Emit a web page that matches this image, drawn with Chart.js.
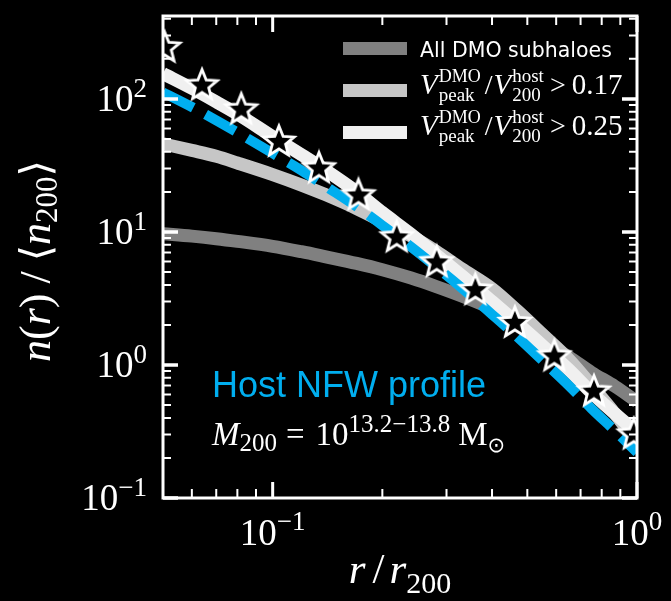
<!DOCTYPE html>
<html><head><meta charset="utf-8">
<style>html,body{margin:0;padding:0;background:#000;}#wrap{width:671px;height:601px;position:relative;}</style>
<script src="https://cdn.jsdelivr.net/npm/chart.js@4.4.1/dist/chart.umd.min.js"></script>
</head><body><div id="wrap"><canvas id="c"></canvas></div>
<script>
// ---------------- data ----------------
const radius    = [0.05,0.06,0.07,0.08,0.1,0.12,0.14,0.17,0.2,0.24,0.28,0.33,0.4,0.47,0.55,0.65,0.75,0.87,1.0];
const allDMO    = [9.7,9.3,8.9,8.5,7.8,7.1,6.5,5.8,5.2,4.5,3.9,3.3,2.65,2.1,1.5,1.15,0.88,0.69,0.53];
const vpeak017  = [46,41,37,33,27,22.5,19,15,12,9.3,7.2,5.3,3.75,2.55,1.7,1.1,0.7,0.43,0.26];
const vpeak025  = [155,120,95,77,52,38,29,20,14,9.6,6.8,4.7,3.0,2.05,1.4,0.92,0.62,0.43,0.31];
const hostNFW   = [112,87,69,56,39,29,22,15.5,11.2,7.7,5.5,3.8,2.4,1.62,1.08,0.70,0.47,0.32,0.22];
const starRadius= [0.0505,0.064,0.082,0.104,0.134,0.172,0.219,0.282,0.36,0.462,0.593,0.762,0.98];
const starValues= [242,126,83,47.5,30,18.8,9.1,5.9,3.65,2.07,1.16,0.63,0.30];

const seriesLabels = ['All DMO subhaloes','V_peak^DMO/V_200^host > 0.17','V_peak^DMO/V_200^host > 0.25','Host NFW profile','stacked subhaloes'];
const legendThresholds = ['0.17','0.25'];
const xTickValues = [0.1, 1];
const xTickExps   = ['\u22121','0'];
const yTickValues = [0.1, 1, 10, 100];
const yTickExps   = ['\u22121','0','1','2'];
const xRange = [0.05, 1];
const yRange = [0.1, 420];

// ---------------- styling ----------------
const SERIF = '"Liberation Serif","DejaVu Serif",serif';
const SANS  = '"Liberation Sans",Arial,sans-serif';
const LSANS = '"DejaVu Sans",sans-serif';
const colDark = '#808080', colMid = '#c6c6c6', colLight = '#f0f0f0', colBlue = '#00aeef';

function makeStar(R, r, lw){
  const size = Math.ceil(2*R + 2*lw + 2);
  const c = document.createElement('canvas'); c.width = size; c.height = size;
  const g = c.getContext('2d'); g.translate(size/2, size/2);
  g.beginPath();
  for (let i=0;i<10;i++){ const a=-Math.PI/2+i*Math.PI/5; const rr=(i%2)?r:R; g.lineTo(rr*Math.cos(a), rr*Math.sin(a)); }
  g.closePath(); g.fillStyle='#000'; g.fill();
  g.lineWidth=lw; g.strokeStyle='#fff'; g.lineJoin='miter'; g.stroke();
  return c;
}
const starImg = makeStar(16, 7, 2.8);

function pts(xs, ys){ return xs.map((x,i)=>({x, y: ys[i]})); }

function rich(ctx, segs, x, y, align){
  const lay=[]; let cur=0, pend=null;
  for (const s of segs){
    ctx.font = s.f;
    const w = ctx.measureText(s.t).width;
    const pre = s.pre||0;
    if (s.stack){ lay.push([s, cur+pre]); pend={start:cur+pre, w}; }
    else if (pend){ lay.push([s, pend.start]); cur = pend.start + Math.max(pend.w, w) + (s.post||0); pend=null; }
    else { lay.push([s, cur+pre]); cur += pre + w + (s.post||0); }
  }
  const x0 = align==='right' ? x-cur : align==='center' ? x-cur/2 : x;
  ctx.textAlign='left'; ctx.textBaseline='alphabetic';
  for (const [s,px] of lay){ ctx.font=s.f; ctx.fillText(s.t, x0+px, y+(s.dy||0)); }
  return cur;
}

const decor = {
  id:'decor',
  beforeDraw(chart){
    const ctx=chart.ctx; ctx.save(); ctx.fillStyle='#000'; ctx.fillRect(0,0,chart.width,chart.height); ctx.restore();
  },
  afterDatasetsDraw(chart){
    const ctx=chart.ctx, ca=chart.chartArea, xs=chart.scales.x, ys=chart.scales.y;
    ctx.save();
    ctx.strokeStyle='#fff';
    const tick=(px,isX,len,w)=>{
      ctx.lineWidth=w; ctx.beginPath();
      if(isX){ ctx.moveTo(px,ca.bottom); ctx.lineTo(px,ca.bottom-len); ctx.moveTo(px,ca.top); ctx.lineTo(px,ca.top+len); }
      else { ctx.moveTo(ca.left,px); ctx.lineTo(ca.left+len,px); ctx.moveTo(ca.right,px); ctx.lineTo(ca.right-len,px); }
      ctx.stroke();
    };
    for (let d=0.01; d<=1.0001; d*=10){
      for(let k=1;k<=9;k++){ const v=d*k; if(v<xRange[0]-1e-9||v>xRange[1]+1e-9) continue;
        const major = k===1; tick(xs.getPixelForValue(v), true, major?16:9, major?3:2); }
    }
    for (let d=0.1; d<=100.001; d*=10){
      for(let k=1;k<=9;k++){ const v=d*k; if(v<yRange[0]-1e-9||v>yRange[1]) continue;
        const major = k===1; tick(ys.getPixelForValue(v), false, major?15:8, major?3.5:2); }
    }
    ctx.lineWidth=3; ctx.strokeRect(ca.left, ca.top, ca.right-ca.left, ca.bottom-ca.top);
    ctx.restore();
  },
  afterDraw(chart){
    const ctx=chart.ctx, ca=chart.chartArea, xs=chart.scales.x, ys=chart.scales.y;
    const ds=chart.data.datasets;
    ctx.save();
    ctx.fillStyle='#fff';
    xTickValues.forEach((v,i)=>{
      rich(ctx,[{t:'10',f:`37px ${SERIF}`},{t:xTickExps[i],f:`27px ${SERIF}`,dy:-15}], xs.getPixelForValue(v), 545, 'center');
    });
    yTickValues.forEach((v,i)=>{
      const py=ys.getPixelForValue(v);
      rich(ctx,[{t:'10',f:`37px ${SERIF}`},{t:yTickExps[i],f:`27px ${SERIF}`,dy:-14}], 147, py+12, 'right');
    });
    rich(ctx,[{t:'r',f:`italic 43px ${SERIF}`},{t:'/',f:`43px ${SERIF}`,pre:7,post:5},{t:'r',f:`italic 43px ${SERIF}`},{t:'200',f:`30px ${SERIF}`,dy:10}], (ca.left+ca.right)/2, 583, 'center');
    ctx.save(); ctx.translate(50, 261); ctx.rotate(-Math.PI/2);
    rich(ctx,[{t:'n',f:`italic 44px ${SERIF}`},{t:'(',f:`44px ${SERIF}`},{t:'r',f:`italic 44px ${SERIF}`},{t:')',f:`44px ${SERIF}`},
      {t:'/',f:`44px ${SERIF}`,pre:10,post:10},{t:'\u27E8',f:`42px ${LSANS}`},{t:'n',f:`italic 44px ${SERIF}`},{t:'200',f:`31px ${SERIF}`,dy:7},{t:'\u27E9',f:`42px ${LSANS}`}], 0, 0, 'center');
    ctx.restore();
    // legend
    const lx0=ca.left+180, lx1=ca.left+244, tx=ca.left+257;
    const rows=[{c:ds[0].borderColor,yc:48.5,base:57},{c:ds[1].borderColor,yc:90.5,base:94},{c:ds[2].borderColor,yc:132.5,base:135}];
    rows.forEach(r=>{ ctx.fillStyle=r.c; ctx.fillRect(lx0, r.yc-6.5, lx1-lx0, 13); });
    ctx.fillStyle='#fff';
    ctx.font=`20.5px ${LSANS}`; ctx.textAlign='left'; ctx.fillText(ds[0].label, tx, 57);
    [1,2].forEach((k,j)=>{
      const b=rows[k].base;
      rich(ctx,[{t:'V',f:`italic 29px ${SERIF}`},{t:'DMO',f:`18px ${SERIF}`,dy:-12,stack:true,pre:1},{t:'peak',f:`19px ${SERIF}`,dy:7},
        {t:'/',f:`28px ${SERIF}`,pre:4,post:1},{t:'V',f:`italic 29px ${SERIF}`},{t:'host',f:`19px ${SERIF}`,dy:-12,stack:true,pre:1},{t:'200',f:`19px ${SERIF}`,dy:7},
        {t:'>',f:`28px ${SERIF}`,pre:6,post:6},{t:legendThresholds[j],f:`29px ${SERIF}`}], tx, b, 'left');
    });
    ctx.fillStyle=ds[3].borderColor; ctx.font=`36px ${SANS}`; ctx.textAlign='left';
    ctx.fillText(ds[3].label, ca.left+49, 397);
    ctx.fillStyle='#fff';
    rich(ctx,[{t:'M',f:`italic 33px ${SERIF}`},{t:'200',f:`25px ${SERIF}`,dy:6},{t:'=',f:`33px ${SERIF}`,pre:9,post:11},{t:'10',f:`33px ${SERIF}`},
      {t:'13.2\u221213.8',f:`25px ${SERIF}`,dy:-13,post:8},{t:'M',f:`33px ${SERIF}`},{t:'\u2299',f:`21px ${LSANS}`,dy:7}], ca.left+49, 445, 'left');
    ctx.restore();
  }
};

const lineDS = (label, ys, color, order, extra) => Object.assign({
  label, data: pts(radius, ys), borderColor: color, backgroundColor: color,
  borderWidth: 13, pointRadius: 0, fill: false, cubicInterpolationMode: 'monotone',
  borderCapStyle: 'butt', borderJoinStyle: 'round', order, clip: 0
}, extra||{});

new Chart(document.getElementById('c'), {
  type: 'line',
  data: { datasets: [
    lineDS(seriesLabels[0], allDMO, colDark, 4),
    lineDS(seriesLabels[1], vpeak017, colMid, 3),
    lineDS(seriesLabels[2], vpeak025, colLight, 2),
    lineDS(seriesLabels[3], hostNFW, colBlue, 1, {borderWidth: 10, borderDash: [34, 14]}),
    { label: seriesLabels[4], data: pts(starRadius, starValues), showLine: false, pointStyle: starImg,
      pointRadius: 15, pointHoverRadius: 15, borderColor: '#fff', backgroundColor: '#000', order: 0, clip: 0 }
  ]},
  options: {
    responsive: true, maintainAspectRatio: false, animation: false,
    layout: { padding: { left: 163, right: 34, top: 15, bottom: 103 } },
    plugins: { legend: { display: false }, tooltip: { enabled: false } },
    events: [],
    scales: {
      x: { type: 'logarithmic', min: xRange[0], max: xRange[1], display: false },
      y: { type: 'logarithmic', min: yRange[0], max: yRange[1], display: false }
    }
  },
  plugins: [decor]
});
</script></body></html>
